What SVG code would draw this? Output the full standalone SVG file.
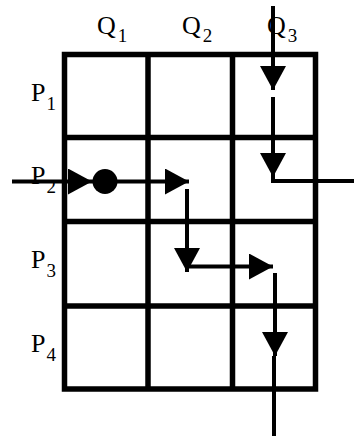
<svg xmlns="http://www.w3.org/2000/svg" width="358" height="436" viewBox="0 0 358 436">
<style>
.grid{fill:none;stroke:#000;stroke-width:5.5}
.lbl{font-family:"Liberation Serif","Times New Roman",serif;font-size:26px;fill:#000}
.sub{font-size:19px}
.wire{fill:none;stroke:#000;stroke-width:4}
</style>
<defs>
<marker id="ah" viewBox="0 0 24 26" refX="24" refY="13" markerWidth="24" markerHeight="26" markerUnits="userSpaceOnUse" orient="auto">
<path d="M0,0 L24,13 L0,26 Z" fill="#000"/>
</marker>
</defs>
<rect width="358" height="436" fill="#fff"/>
<g id="grid">
<rect class="grid" x="64.5" y="54.5" width="251" height="334.5"/>
<line class="grid" x1="148" y1="54.5" x2="148" y2="389"/>
<line class="grid" x1="232.5" y1="54.5" x2="232.5" y2="389"/>
<line class="grid" x1="64.5" y1="137.5" x2="315.5" y2="137.5"/>
<line class="grid" x1="64.5" y1="221.5" x2="315.5" y2="221.5"/>
<line class="grid" x1="64.5" y1="306" x2="315.5" y2="306"/>
</g>
<g id="labels">
<text id="Q1" class="lbl" x="97" y="34">Q<tspan class="sub" dx="2" dy="8">1</tspan></text>
<text id="Q2" class="lbl" x="182" y="34">Q<tspan class="sub" dx="2" dy="8">2</tspan></text>
<text id="Q3" class="lbl" x="267" y="34">Q<tspan class="sub" dx="2" dy="8">3</tspan></text>
<text id="P1" class="lbl" x="31" y="101">P<tspan class="sub" dx="1" dy="9">1</tspan></text>
<text id="P2" class="lbl" x="31" y="184">P<tspan class="sub" dx="1" dy="9">2</tspan></text>
<text id="P3" class="lbl" x="31" y="268">P<tspan class="sub" dx="1" dy="9">3</tspan></text>
<text id="P4" class="lbl" x="31" y="352">P<tspan class="sub" dx="1" dy="9">4</tspan></text>
</g>
<g id="connectors">
<line class="wire" x1="12" y1="181.5" x2="92" y2="181.5" marker-end="url(#ah)"/>
<line class="wire" x1="92" y1="181.5" x2="189" y2="181.5" marker-end="url(#ah)"/>
<line class="wire" x1="187" y1="189" x2="187" y2="272" marker-end="url(#ah)"/>
<line class="wire" x1="187" y1="266.5" x2="273" y2="266.5" marker-end="url(#ah)"/>
<line class="wire" x1="275" y1="273" x2="275" y2="356" marker-end="url(#ah)"/>
<line class="wire" x1="274" y1="356" x2="274" y2="436"/>
<line class="wire" x1="273" y1="6" x2="273" y2="90" marker-end="url(#ah)"/>
<line class="wire" x1="273" y1="97" x2="273" y2="177" marker-end="url(#ah)"/>
<path class="wire" d="M273,176 V181 H354"/>
</g>
<g id="junction">
<circle cx="105" cy="181.5" r="12.5" fill="#000"/>
</g>
</svg>
